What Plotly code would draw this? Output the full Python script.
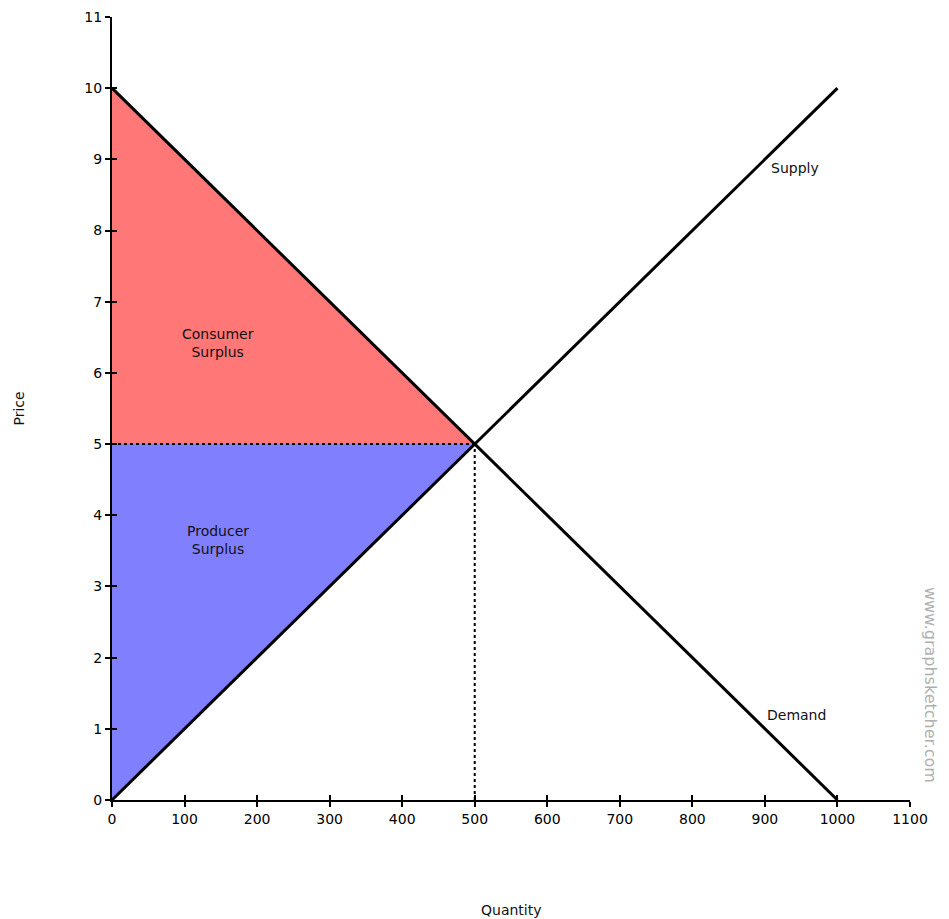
import plotly.graph_objects as go

demand_q = [0, 1000]
demand_p = [10, 0]
supply_q = [0, 1000]
supply_p = [0, 10]
eq_q = 500
eq_p = 5
cs_q = [0, 0, 500]
cs_p = [10, 5, 5]
ps_q = [0, 0, 500]
ps_p = [0, 5, 5]
x_ticks = [0, 100, 200, 300, 400, 500, 600, 700, 800, 900, 1000, 1100]
y_ticks = list(range(0, 12))

FONT = "DejaVu Sans"
fig = go.Figure()
fig.add_trace(go.Scatter(x=cs_q, y=cs_p, fill="toself", fillcolor="#FF7777",
                         mode="none", hoverinfo="skip"))
fig.add_trace(go.Scatter(x=ps_q, y=ps_p, fill="toself", fillcolor="#8080FF",
                         mode="none", hoverinfo="skip"))
fig.add_trace(go.Scatter(x=[0, eq_q], y=[eq_p, eq_p], mode="lines",
                         line=dict(color="black", width=2, dash="dot")))
fig.add_trace(go.Scatter(x=[eq_q, eq_q], y=[0, eq_p], mode="lines",
                         line=dict(color="black", width=2, dash="dot")))
fig.add_trace(go.Scatter(x=demand_q, y=demand_p, mode="lines",
                         line=dict(color="black", width=3)))
fig.add_trace(go.Scatter(x=supply_q, y=supply_p, mode="lines",
                         line=dict(color="black", width=3)))

ann_font = dict(family=FONT, size=14, color="#111111")
fig.add_annotation(x=146, y=6.42, text="Consumer<br>Surplus", showarrow=False, font=ann_font)
fig.add_annotation(x=146, y=3.65, text="Producer<br>Surplus", showarrow=False, font=ann_font)
fig.add_annotation(x=941, y=8.88, text="Supply", showarrow=False, font=ann_font)
fig.add_annotation(x=943, y=1.19, text="Demand", showarrow=False, font=ann_font)
fig.add_annotation(xref="paper", yref="paper", x=1.0, xshift=20, y=0.147,
                   xanchor="center", yanchor="middle",
                   text="www.graphsketcher.com", textangle=90, showarrow=False,
                   font=dict(family=FONT, size=16, color="#B0B0B0"))
fig.add_annotation(xref="paper", yref="paper", x=0.5, y=0, yshift=-110,
                   yanchor="middle",
                   text="Quantity", showarrow=False, font=ann_font)
fig.add_annotation(xref="paper", yref="paper", x=0, xshift=-94, y=0.5,
                   xanchor="center", yanchor="middle",
                   text="Price", textangle=-90, showarrow=False, font=ann_font)

fig.update_layout(
    width=949, height=919,
    margin=dict(l=104, r=47, t=9, b=127, autoexpand=False),
    plot_bgcolor="white", paper_bgcolor="white",
    showlegend=False,
    font=dict(family=FONT, size=14, color="black"),
    xaxis=dict(range=[0, 1100], tickvals=x_ticks, showgrid=False, zeroline=False,
               showline=True, linecolor="black", linewidth=2, automargin=False,
               ticks="outside", ticklen=5, tickwidth=2, tickcolor="black"),
    yaxis=dict(range=[0, 11], tickvals=y_ticks, showgrid=False, zeroline=False,
               showline=True, linecolor="black", linewidth=2, automargin=False,
               ticks="outside", ticklen=5, tickwidth=2, tickcolor="black"),
    xaxis2=dict(overlaying="x", matches="x", range=[0, 1100], tickvals=x_ticks,
                ticks="inside", ticklen=5, tickwidth=2, tickcolor="black", automargin=False,
                showticklabels=False, showgrid=False, zeroline=False, side="bottom"),
    yaxis2=dict(overlaying="y", matches="y", range=[0, 11], tickvals=y_ticks,
                ticks="inside", ticklen=5, tickwidth=2, tickcolor="black", automargin=False,
                showticklabels=False, showgrid=False, zeroline=False, side="left"),
)
fig.add_trace(go.Scatter(x=[0], y=[0], xaxis="x2", yaxis="y2", mode="markers",
                         marker=dict(opacity=0), hoverinfo="skip"))
fig.write_html("out.html")
